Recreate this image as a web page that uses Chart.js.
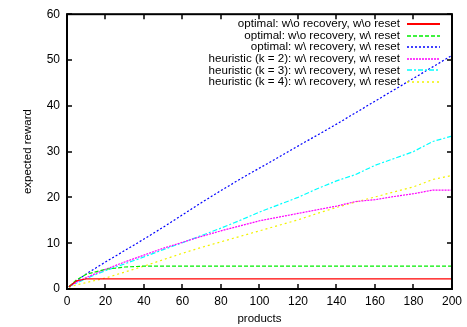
<!DOCTYPE html>
<html><head><meta charset="utf-8">
<script src="https://cdn.jsdelivr.net/npm/chart.js@4"></script>
<style>html,body{margin:0;padding:0;background:#fff}#wrap{width:467px;height:327px}</style>
</head><body><div id="wrap"><canvas id="c" width="467" height="327"></canvas></div>
<script>
const products = [1, 5, 10, 20, 30, 40, 50, 60, 70, 80, 90, 100, 110, 120, 130, 140, 150, 160, 170, 180, 190, 200];
const optNoRecNoReset = [0.5, 1.8, 2.2, 2.2, 2.2, 2.2, 2.2, 2.2, 2.2, 2.2, 2.2, 2.2, 2.2, 2.2, 2.2, 2.2, 2.2, 2.2, 2.2, 2.2, 2.2, 2.2];
const optNoRecReset = [0.5, 2.0, 3.2, 4.3, 4.8, 5.0, 5.0, 5.0, 5.0, 5.0, 5.0, 5.0, 5.0, 5.0, 5.0, 5.0, 5.0, 5.0, 5.0, 5.0, 5.0, 5.0];
const optRecReset = [0.5, 1.8, 3.3, 5.9, 8.4, 10.9, 13.5, 16.2, 18.9, 21.5, 24.0, 26.4, 28.8, 31.2, 33.6, 36.0, 38.5, 41.0, 43.5, 46.0, 48.5, 51.0];
const heurK2 = [0.5, 1.5, 2.5, 4.3, 5.9, 7.4, 8.9, 10.2, 11.5, 12.7, 13.8, 14.9, 15.7, 16.5, 17.3, 18.1, 19.1, 19.5, 20.2, 20.8, 21.6, 21.6];
const heurK3 = [0.5, 1.3, 2.3, 4.0, 5.5, 7.0, 8.6, 10.1, 11.7, 13.3, 15.0, 16.8, 18.4, 20.0, 21.9, 23.6, 25.0, 27.0, 28.5, 30.0, 32.2, 33.4];
const heurK4 = [0.4, 0.9, 1.4, 2.4, 3.7, 5.0, 6.4, 7.8, 9.1, 10.3, 11.5, 12.7, 13.9, 15.1, 16.5, 17.8, 19.0, 20.1, 21.2, 22.3, 23.9, 24.8];
const seriesLabels = [
  "optimal: w\\o recovery, w\\o reset",
  "optimal: w\\o recovery, w\\ reset",
  "optimal: w\\ recovery, w\\ reset",
  "heuristic (k = 2): w\\ recovery, w\\ reset",
  "heuristic (k = 3): w\\ recovery, w\\ reset",
  "heuristic (k = 4): w\\ recovery, w\\ reset"
];
const xTicks = [0, 20, 40, 60, 80, 100, 120, 140, 160, 180, 200];
const yTicks = [0, 10, 20, 30, 40, 50, 60];

const seriesValues = [optNoRecNoReset, optNoRecReset, optRecReset, heurK2, heurK3, heurK4];
const styles = [
  {c: "#ff0000", d: []},
  {c: "#00ee00", d: [4, 2]},
  {c: "#0000ff", d: [2, 2]},
  {c: "#ff00ff", d: [2, 1]},
  {c: "#00ffff", d: [5, 2, 2, 2]},
  {c: "#f2f200", d: [2, 3]}
];
const datasets = seriesValues.map((vals, i) => ({
  label: seriesLabels[i],
  data: products.map((p, j) => ({x: p, y: vals[j]})),
  borderColor: styles[i].c,
  borderDash: styles[i].d,
  borderWidth: 1.2,
  pointRadius: 0,
  fill: false,
  tension: 0
}));

const FONT = "'Liberation Sans', Arial, sans-serif";

const framePlugin = {
  id: "frame",
  afterDatasetsDraw(chart) {
    const {ctx, chartArea: a, scales} = chart;
    ctx.save();
    ctx.strokeStyle = "#000";
    ctx.lineWidth = 1.5;
    const tl = 5;
    ctx.beginPath();
    xTicks.forEach(v => {
      const px = Math.round(scales.x.getPixelForValue(v));
      ctx.moveTo(px, a.bottom); ctx.lineTo(px, a.bottom - tl);
      ctx.moveTo(px, a.top); ctx.lineTo(px, a.top + tl);
    });
    yTicks.forEach(v => {
      const py = Math.round(scales.y.getPixelForValue(v));
      ctx.moveTo(a.left, py); ctx.lineTo(a.left + tl, py);
      ctx.moveTo(a.right, py); ctx.lineTo(a.right - tl, py);
    });
    ctx.stroke();
    ctx.lineWidth = 2;
    ctx.strokeRect(a.left, a.top, a.right - a.left, a.bottom - a.top);
    // legend
    ctx.font = "11.6px " + FONT;
    ctx.textAlign = "right";
    ctx.textBaseline = "middle";
    const textRight = 400, s0 = 407, s1 = 440;
    chart.data.datasets.forEach((ds, i) => {
      const y = 24 + i * 11.6;
      ctx.fillStyle = "#000";
      ctx.fillText(ds.label, textRight, y);
      ctx.strokeStyle = ds.borderColor;
      ctx.lineWidth = i === 0 ? 2 : 1.5;
      ctx.setLineDash(ds.borderDash);
      ctx.beginPath();
      ctx.moveTo(s0, Math.round(y));
      ctx.lineTo(s1, Math.round(y));
      ctx.stroke();
      ctx.setLineDash([]);
    });
    ctx.restore();
  }
};

new Chart(document.getElementById("c"), {
  type: "line",
  data: {datasets},
  plugins: [framePlugin],
  options: {
    responsive: false,
    animation: false,
    devicePixelRatio: 1,
    layout: {padding: {left: 0, right: 14, top: 14, bottom: 0}},
    plugins: {legend: {display: false}, tooltip: {enabled: false}},
    scales: {
      x: {
        type: "linear", min: 0, max: 200,
        afterBuildTicks: s => { s.ticks = xTicks.map(v => ({value: v})); },
        afterFit: s => { s.height = 38; },
        grid: {display: false, drawTicks: false},
        border: {display: false},
        ticks: {color: "#000", font: {family: FONT, size: 12}, padding: 5, maxRotation: 0},
        title: {display: true, text: "products", color: "#000", font: {family: FONT, size: 11.5}, padding: {top: 0, bottom: 1}}
      },
      y: {
        type: "linear", min: 0, max: 60,
        afterBuildTicks: s => { s.ticks = yTicks.map(v => ({value: v})); },
        afterFit: s => { s.width = 67; },
        grid: {display: false, drawTicks: false},
        border: {display: false},
        ticks: {color: "#000", font: {family: FONT, size: 12}, padding: 7},
        title: {display: true, text: "expected reward", color: "#000", font: {family: FONT, size: 11.5}, padding: {top: 21, bottom: 0}}
      }
    }
  }
});
</script></body></html>
